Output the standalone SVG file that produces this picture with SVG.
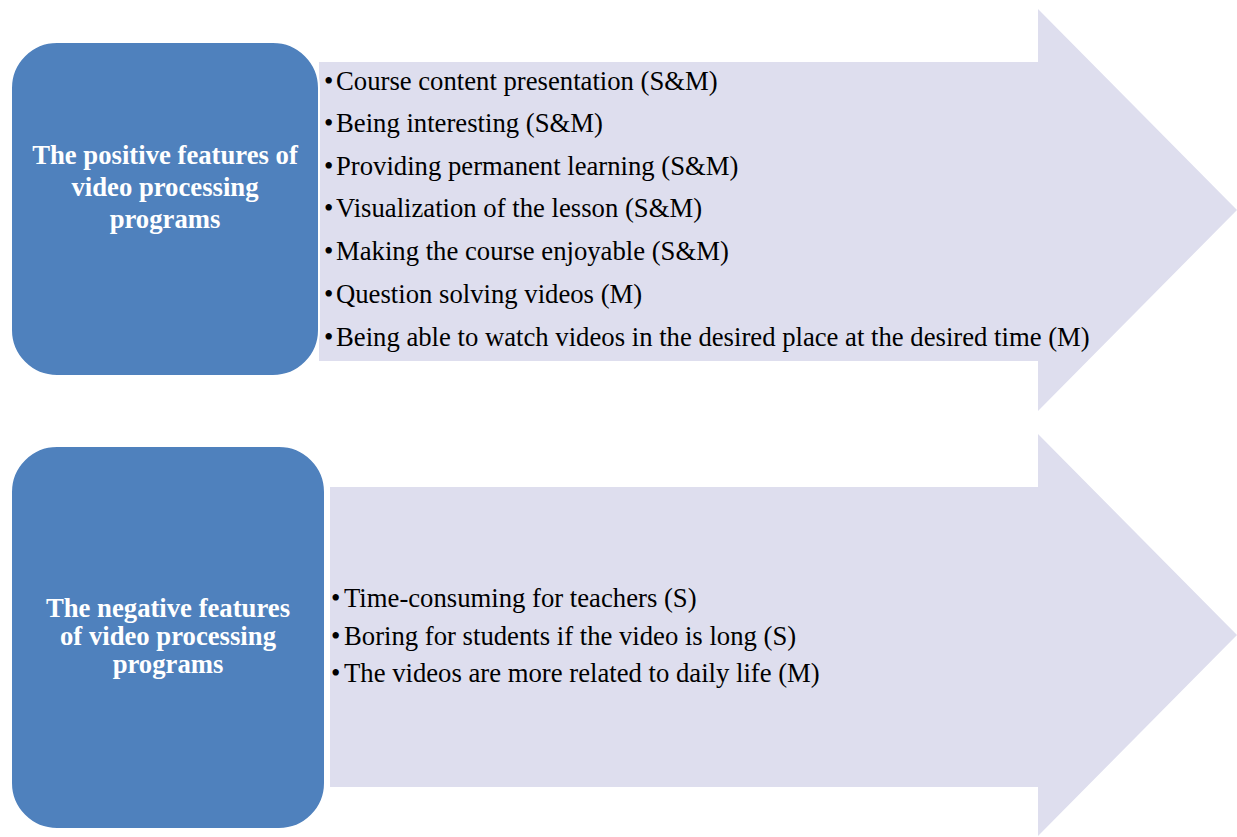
<svg xmlns="http://www.w3.org/2000/svg" width="1237" height="837" viewBox="0 0 1237 837">
<style>
.arrow{fill:#DEDEEE;stroke:none}
.box{fill:#4F81BD;stroke:#FFFFFF;stroke-width:2}
.title{font-family:"Liberation Serif","Times New Roman",serif;font-weight:bold;font-size:26.7px;fill:#FFFFFF;text-anchor:middle}
.item{font-family:"Liberation Serif","Times New Roman",serif;font-size:26.7px;fill:#000000}
</style>
<rect width="1237" height="837" fill="#FFFFFF"/>
<g id="connectors">
<polygon id="arrow-positive" class="arrow" points="319,62 1038,62 1038,9 1237,210 1038,411 1038,361 319,361"/>
<polygon id="arrow-negative" class="arrow" points="330,487 1038,487 1038,434 1237,635 1038,836 1038,787 330,787"/>
</g>
<g id="node-positive">
<rect class="box" x="11" y="42" width="308" height="334" rx="46" ry="46"/>
<text class="title" x="165" y="164">The positive features of</text>
<text class="title" x="165" y="196">video processing</text>
<text class="title" x="165" y="228">programs</text>
</g>
<g id="list-positive" class="item">
<text x="324" y="90">•</text><text x="336" y="90">Course content presentation (S&amp;M)</text>
<text x="324" y="132">•</text><text x="336" y="132">Being interesting (S&amp;M)</text>
<text x="324" y="175">•</text><text x="336" y="175">Providing permanent learning (S&amp;M)</text>
<text x="324" y="217">•</text><text x="336" y="217">Visualization of the lesson (S&amp;M)</text>
<text x="324" y="260">•</text><text x="336" y="260">Making the course enjoyable (S&amp;M)</text>
<text x="324" y="303">•</text><text x="336" y="303">Question solving videos (M)</text>
<text x="324" y="346">•</text><text x="336" y="346">Being able to watch videos in the desired place at the desired time (M)</text>
</g>
<g id="node-negative">
<rect class="box" x="11" y="446" width="314" height="383" rx="46" ry="46"/>
<text class="title" x="168" y="617">The negative features</text>
<text class="title" x="168" y="645">of video processing</text>
<text class="title" x="168" y="673">programs</text>
</g>
<g id="list-negative" class="item">
<text x="331" y="607">•</text><text x="344" y="607">Time-consuming for teachers (S)</text>
<text x="331" y="645">•</text><text x="344" y="645">Boring for students if the video is long (S)</text>
<text x="331" y="682">•</text><text x="344" y="682">The videos are more related to daily life (M)</text>
</g>
</svg>
